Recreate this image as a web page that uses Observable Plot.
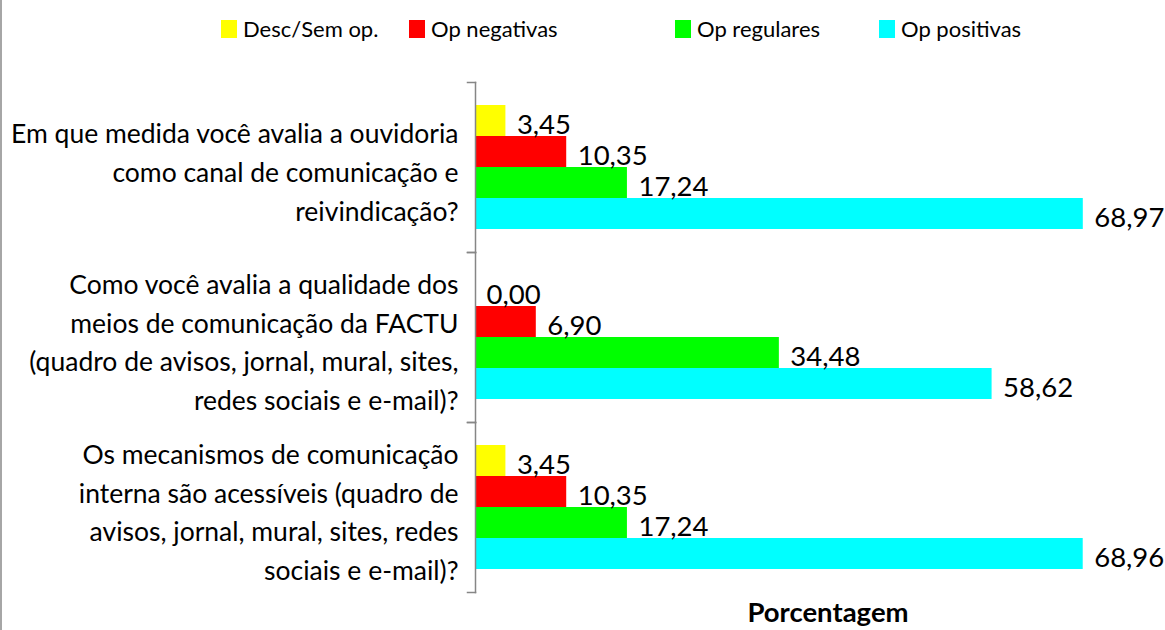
<!DOCTYPE html>
<html><head><meta charset="utf-8">
<script src="https://cdn.jsdelivr.net/npm/d3@7"></script>
<script src="https://cdn.jsdelivr.net/npm/@observablehq/plot@0.6"></script>
<style>
html,body{margin:0;padding:0;background:#fff;overflow:hidden;}
#wrap{position:relative;width:1165px;height:630px;overflow:hidden;font-family:Lato,sans-serif;}
#border{position:absolute;left:0;top:0;width:2px;height:630px;background:#a6a6a6;}
#legend{position:absolute;top:19px;left:221px;display:flex;align-items:center;font-size:22px;color:#000;line-height:20px;}
.item{display:flex;align-items:center;}
.sw{width:16px;height:18px;margin-right:6px;flex:none;}
#chart{position:absolute;left:0;top:0;width:1180px;}
#chart svg{max-width:none !important;}
</style></head><body>
<div id="wrap"><div id="chart"></div><div id="legend"></div><div id="border"></div></div>
<script>
const categories = [
  "Em que medida você avalia a ouvidoria como canal de comunicação e reivindicação?",
  "Como você avalia a qualidade dos meios de comunicação da FACTU (quadro de avisos, jornal, mural, sites, redes sociais e e-mail)?",
  "Os mecanismos de comunicação interna são acessíveis (quadro de avisos, jornal, mural, sites, redes sociais e e-mail)?"
];
const tickLabels = [
  "Em que medida você avalia a ouvidoria\ncomo canal de comunicação e\nreivindicação?",
  "Como você avalia a qualidade dos\nmeios de comunicação da FACTU\n(quadro de avisos, jornal, mural, sites,\nredes sociais e e-mail)?",
  "Os mecanismos de comunicação\ninterna são acessíveis (quadro de\navisos, jornal, mural, sites, redes\nsociais e e-mail)?"
];
const series = ["Desc/Sem op.", "Op negativas", "Op regulares", "Op positivas"];
const colors = ["#FFFF00", "#FF0000", "#00FF00", "#00FFFF"];
const descSemOp   = [3.45, 0.00, 3.45];
const opNegativas = [10.35, 6.90, 10.35];
const opRegulares = [17.24, 34.48, 17.24];
const opPositivas = [68.97, 58.62, 68.96];
const axisTitle = "Porcentagem";

const seriesValues = [descSemOp, opNegativas, opRegulares, opPositivas];
const data = [];
categories.forEach((c, i) => series.forEach((s, j) => data.push({category: c, series: s, value: seriesValues[j][i]})));
const fmt = v => d3.format(".2f")(v).replace(".", ",");

// legend
const legendWidths = [188, 266, 204, null];
const legend = document.getElementById("legend");
series.forEach((s, j) => {
  const it = document.createElement("div");
  it.className = "item";
  if (legendWidths[j]) it.style.width = legendWidths[j] + "px";
  const sw = document.createElement("div");
  sw.className = "sw"; sw.style.background = colors[j];
  const tx = document.createElement("span");
  tx.textContent = s;
  it.appendChild(sw); it.appendChild(tx);
  legend.appendChild(it);
});

const W = 1180, ML = 475, MR = 0;
const axisColor = "#868686";
const chart = Plot.plot({
  width: W, height: 630,
  marginLeft: ML, marginRight: MR, marginTop: 81, marginBottom: 38,
  x: {domain: [0, 80], axis: null},
  y: {domain: series, axis: null, paddingInner: 0, paddingOuter: 0.7},
  fy: {domain: categories, axis: null, padding: 0},
  color: {domain: series, range: colors},
  style: {fontFamily: "Lato, sans-serif", background: "transparent", overflow: "visible", color: "#000", maxWidth: "none"},
  marks: [
    Plot.barX(data, {x: "value", y: "series", fy: "category", fill: "series"}),
    Plot.text(data, {x: "value", y: "series", fy: "category", text: d => fmt(d.value), textAnchor: "start", dx: 11, dy: 4, fontSize: 27.5, fill: "#000"}),
    Plot.frame({anchor: "left", stroke: axisColor, strokeWidth: 1.5}),
    Plot.frame({anchor: "top", stroke: axisColor, strokeWidth: 1.5, insetLeft: -8, insetRight: W - ML - MR}),
    Plot.frame({anchor: "bottom", stroke: axisColor, strokeWidth: 1.5, insetLeft: -8, insetRight: W - ML - MR}),
    Plot.text(categories, {fy: d => d, text: (d, i) => tickLabels[i], frameAnchor: "left", textAnchor: "end", lineAnchor: "middle", dx: -17, dy: 2, lineHeight: 1.46, fontSize: 26.5, fill: "#000"}),
    Plot.text([categories[categories.length - 1]], {fy: d => d, text: () => axisTitle, frameAnchor: "bottom", lineAnchor: "middle", dy: 21, fontSize: 27.5, fontWeight: "bold", fill: "#000"})
  ]
});
document.getElementById("chart").appendChild(chart);
</script>
</body></html>
